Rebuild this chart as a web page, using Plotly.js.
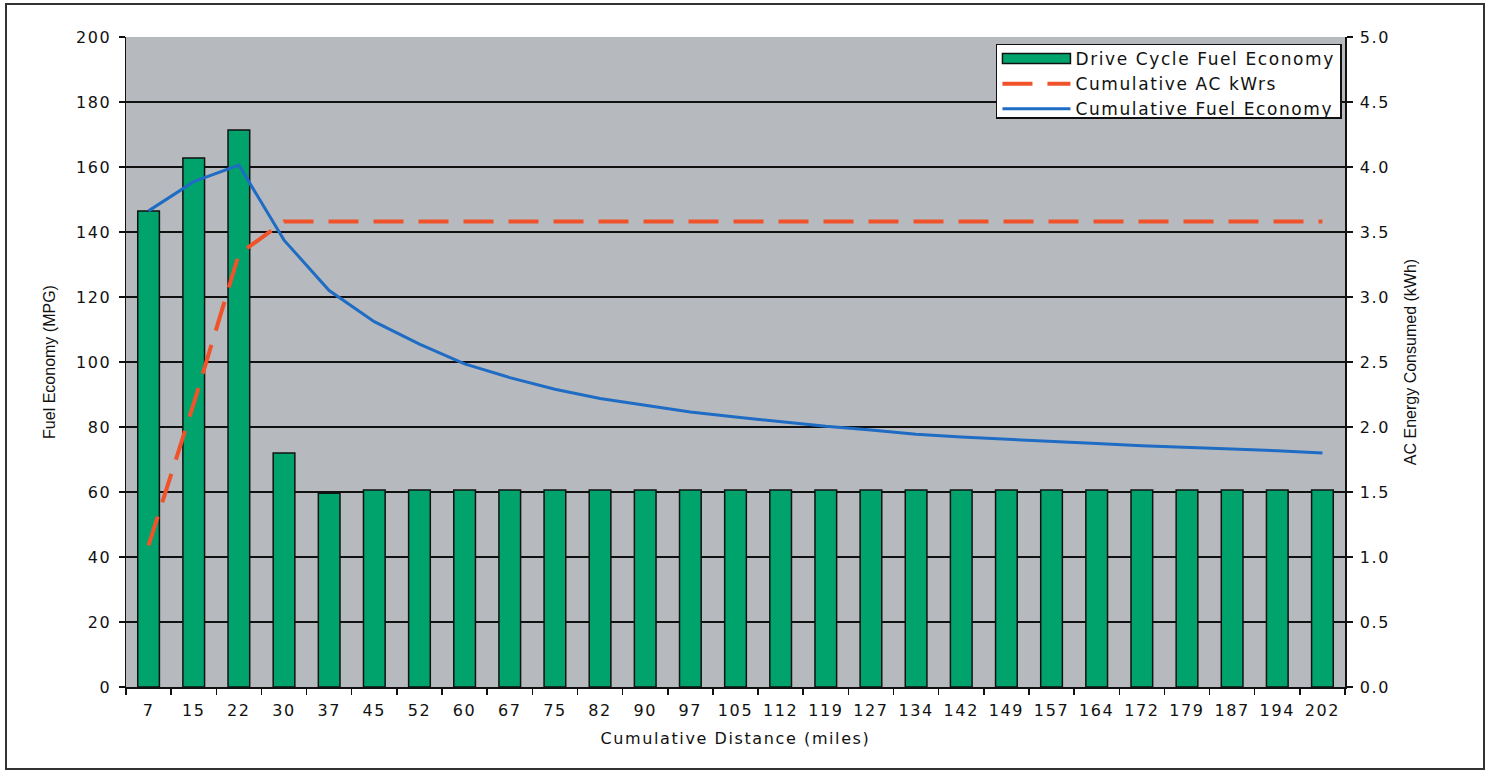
<!DOCTYPE html>
<html>
<head>
<meta charset="utf-8">
<script src="https://cdn.plot.ly/plotly-3.0.1.min.js"></script>
<style>
  html, body { margin: 0; padding: 0; background: #ffffff; }
  #chart { position: absolute; left: 0; top: 0; width: 1489px; height: 772px; }
  #frame { position: absolute; left: 5px; top: 3px; width: 1476px; height: 763px;
           border: 2px solid #333333; pointer-events: none; }
  .xtick text, .ytick text, .y2tick text, .legendtext, .xtitle { letter-spacing: 1.6px; }
</style>
</head>
<body>
<div id="chart"></div>
<div id="frame"></div>
<script>
const categories = ['7','15','22','30','37','45','52','60','67','75','82','90','97','105','112','119','127','134','142','149','157','164','172','179','187','194','202'];

const driveCycleFuelEconomy = [146.5, 162.8, 171.4, 72.0, 59.6, 60.6, 60.6, 60.6, 60.6, 60.6, 60.6, 60.6, 60.6, 60.6, 60.6, 60.6, 60.6, 60.6, 60.6, 60.6, 60.6, 60.6, 60.6, 60.6, 60.6, 60.6, 60.6];

const cumulativeACkWh = [1.09, 2.18, 3.33, 3.58, 3.58, 3.58, 3.58, 3.58, 3.58, 3.58, 3.58, 3.58, 3.58, 3.58, 3.58, 3.58, 3.58, 3.58, 3.58, 3.58, 3.58, 3.58, 3.58, 3.58, 3.58, 3.58, 3.58];

const cumulativeFuelEconomy = [146.5, 155.5, 160.6, 137.5, 122.0, 112.4, 105.5, 99.4, 95.2, 91.6, 88.8, 86.7, 84.6, 83.1, 81.6, 80.2, 79.1, 77.8, 76.9, 76.3, 75.7, 74.9, 74.2, 73.6, 73.2, 72.7, 72.0];

const leftTicks = [0, 20, 40, 60, 80, 100, 120, 140, 160, 180, 200];
const rightTicks = [0, 0.5, 1.0, 1.5, 2.0, 2.5, 3.0, 3.5, 4.0, 4.5, 5.0];

const WIDE = 'DejaVu Sans, Verdana, sans-serif';
const NARROW = 'Liberation Sans, Arial, sans-serif';

const traces = [
  {
    type: 'bar',
    name: 'Drive Cycle Fuel Economy',
    x: categories,
    y: driveCycleFuelEconomy,
    marker: { color: '#00A36C', line: { color: '#111111', width: 1.5 } },
    yaxis: 'y'
  },
  {
    type: 'scatter',
    mode: 'lines',
    name: 'Cumulative AC kWrs',
    x: categories,
    y: cumulativeACkWh,
    line: { color: '#F0522A', width: 4, dash: '30px,15px' },
    yaxis: 'y2'
  },
  {
    type: 'scatter',
    mode: 'lines',
    name: 'Cumulative Fuel Economy',
    x: categories,
    y: cumulativeFuelEconomy,
    line: { color: '#1F6CC4', width: 3 },
    yaxis: 'y'
  }
];

const layout = {
  width: 1489,
  height: 772,
  margin: { l: 126, r: 144, t: 37, b: 85 },
  paper_bgcolor: '#ffffff',
  plot_bgcolor: '#B6BABE',
  font: { family: WIDE, size: 16, color: '#111111' },
  bargap: 0.52,
  showlegend: true,
  legend: {
    x: 0.9975, y: 0.99, xanchor: 'right', yanchor: 'top',
    bgcolor: '#ffffff', bordercolor: '#111111', borderwidth: 1.5,
    font: { family: WIDE, size: 17, color: '#111111' },
    itemwidth: 68,
    traceorder: 'normal'
  },
  xaxis: {
    type: 'category',
    title: { text: 'Cumulative Distance (miles)', font: { family: WIDE, size: 16 }, standoff: 14 },
    showline: true, linecolor: '#111111', linewidth: 1.5,
    ticks: 'outside', tickson: 'boundaries', ticklen: 6, tickcolor: '#111111', tickwidth: 1.5,
    ticklabelstandoff: 8,
    showgrid: false,
    tickfont: { family: WIDE, size: 16 }
  },
  yaxis: {
    range: [0, 200],
    tickvals: leftTicks,
    title: { text: 'Fuel Economy (MPG)', font: { family: NARROW, size: 16 }, standoff: 16 },
    showline: true, linecolor: '#111111', linewidth: 1.5,
    ticks: 'outside', ticklen: 6, tickcolor: '#111111', tickwidth: 1.5,
    ticklabelstandoff: 4,
    showgrid: true, gridcolor: '#111111', gridwidth: 1.2,
    zeroline: false,
    tickfont: { family: WIDE, size: 16 }
  },
  yaxis2: {
    overlaying: 'y',
    side: 'right',
    range: [0, 5],
    tickvals: rightTicks,
    tickformat: '.1f',
    title: { text: 'AC Energy Consumed (kWh)', font: { family: NARROW, size: 16 }, standoff: 16 },
    showline: true, linecolor: '#111111', linewidth: 1.5,
    ticks: 'outside', ticklen: 6, tickcolor: '#111111', tickwidth: 1.5,
    ticklabelstandoff: 4,
    showgrid: false, zeroline: false,
    tickfont: { family: WIDE, size: 16 }
  }
};

Plotly.newPlot('chart', traces, layout, { displayModeBar: false, staticPlot: true }).then(function (gd) {
  // widen the bar legend swatch so it matches the long line swatches
  const lineSym = gd.querySelector('.legend .legendlines path');
  const barSym = gd.querySelector('.legend .legendpoints path');
  if (lineSym && barSym) {
    const lr = lineSym.getBoundingClientRect();
    const br = barSym.getBoundingClientRect();
    const dx = (lr.left + lr.right) / 2 - (br.left + br.right) / 2;
    const half = lr.width / 2;
    barSym.setAttribute('d', 'M' + (dx + half) + ',5H' + (dx - half) + 'V-5H' + (dx + half) + 'Z');
  }
  // tighten the legend box padding (Excel-like compact legend)
  const bg = gd.querySelector('.legend rect.bg');
  const sb = gd.querySelector('.legend .scrollbox');
  if (bg && sb) {
    const h = parseFloat(bg.getAttribute('height'));
    bg.setAttribute('height', Math.max(h - 14, 60));
    const tr = sb.getAttribute('transform') || '';
    sb.setAttribute('transform', tr + ' translate(0,-4)');
  }
});
</script>
</body>
</html>
